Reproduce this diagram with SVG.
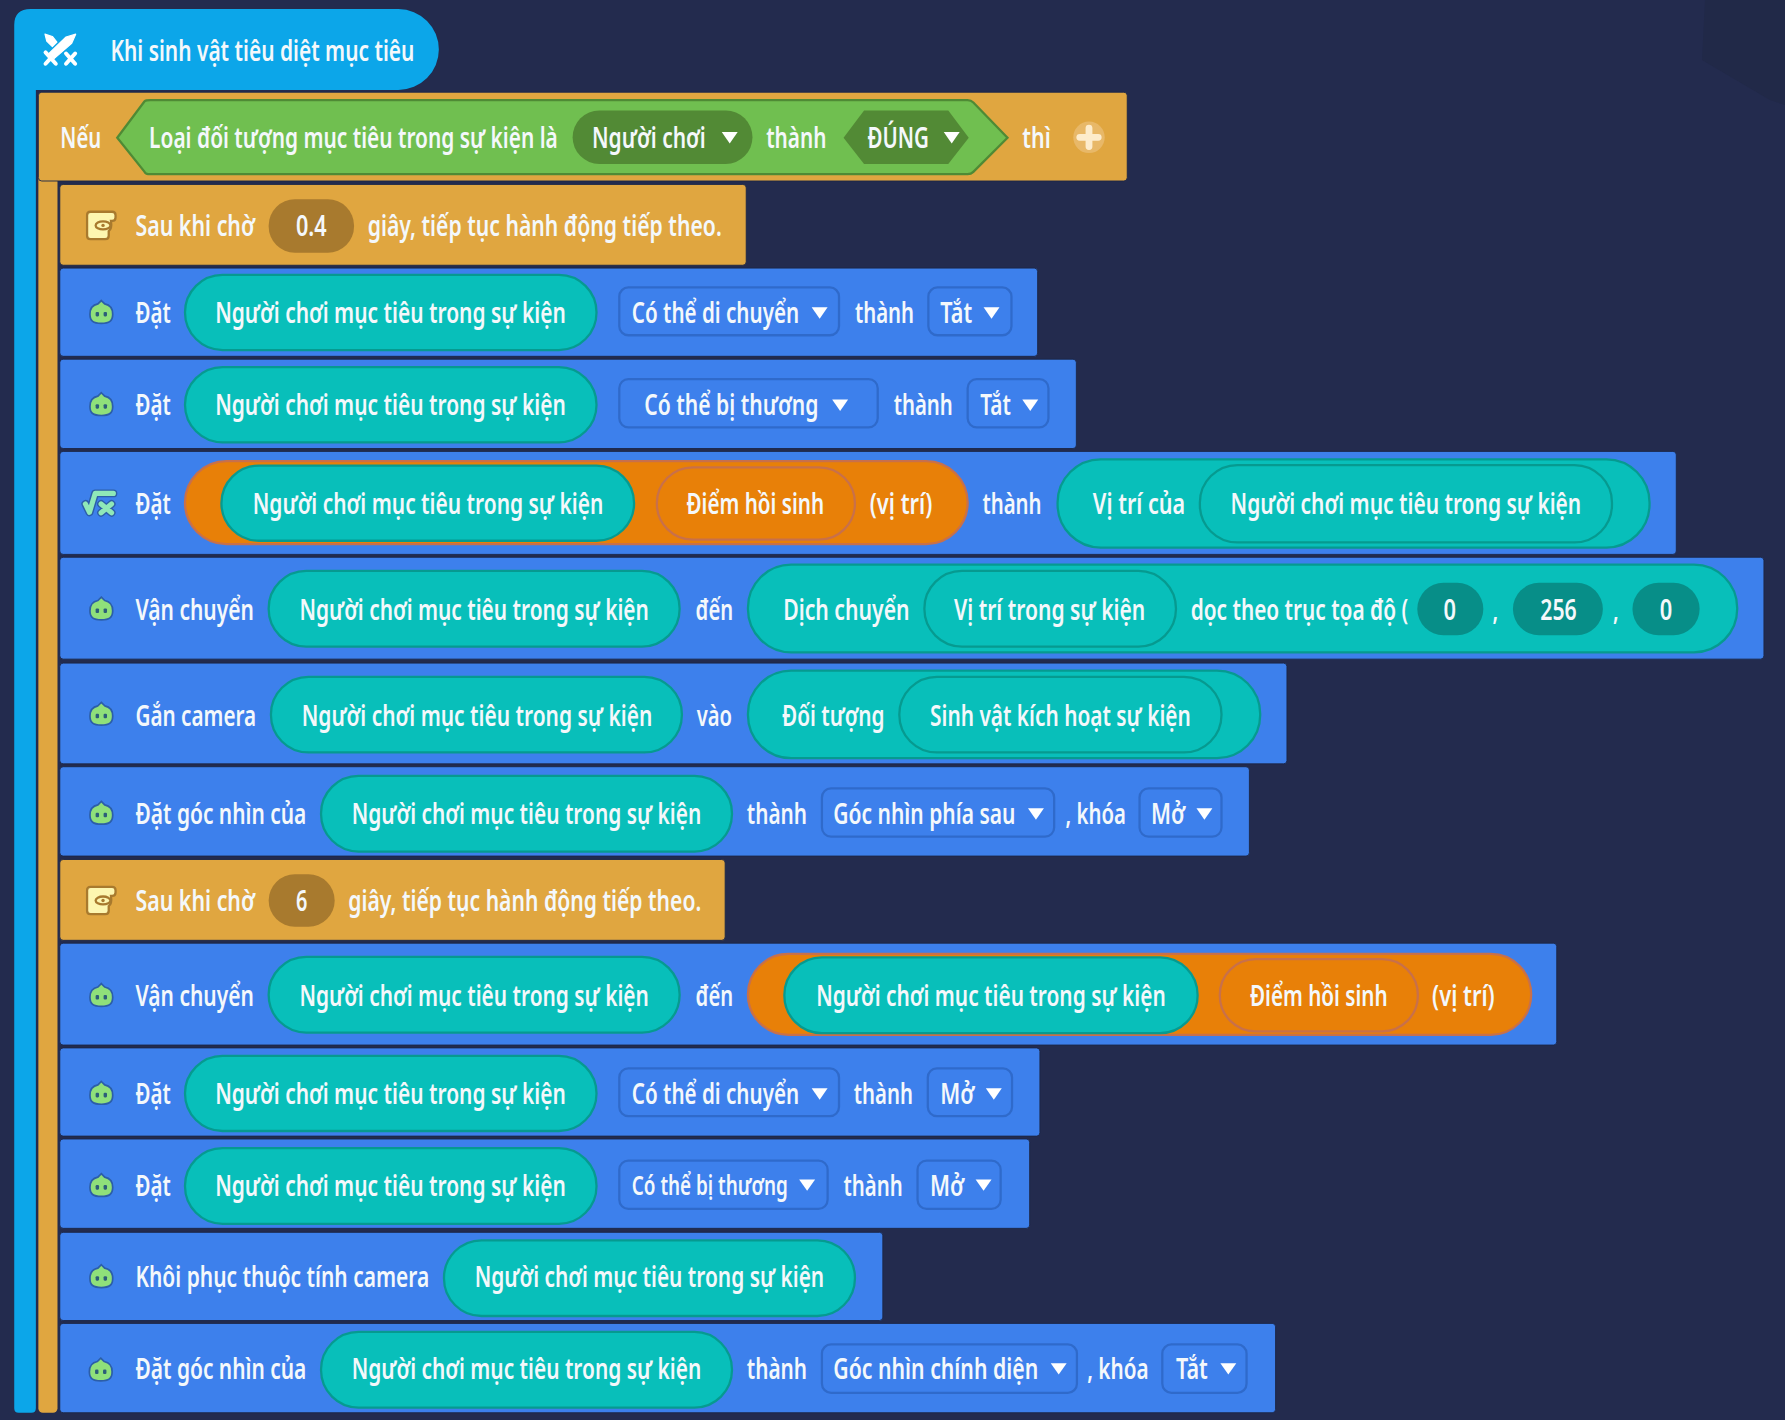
<svg xmlns="http://www.w3.org/2000/svg" width="1785" height="1420" viewBox="0 0 1785 1420">
<style>
text{font-family:"Noto Sans","Open Sans","DejaVu Sans",sans-serif;font-size:20px;font-weight:600;fill:#f4f8fb;transform-box:fill-box;transform-origin:0 78.500%;transform:scaleY(1.25)}
.b{fill:#3d80ec;stroke:#1c2647;stroke-width:.8}
.y{fill:#e0a640;stroke:#1c2647;stroke-width:.8}
.p{fill:#08bfba;stroke:#069a90;stroke-width:2}
.o{fill:#e88008;stroke:#c8704a;stroke-width:2}
.d{fill:#3d80ec;stroke:#2f6acb;stroke-width:2}
.tv{fill:#078e88}
.br{fill:#a87a2e}
.gd{fill:#528a35}
.tri{fill:#fff}
</style>
<defs>
<polygon id="tri" class="tri" points="-7,-5 7,-5 0,5"/>
<g id="blob">
<path d="M0,-11 L3,-8 C8,-7 10,-4 10,1 C10,7 7,9 0,9 C-7,9 -10,7 -10,1 C-10,-4 -8,-7 -3,-8Z" fill="#8fe07a" stroke="#2c5ea8" stroke-width="1.500"/>
<rect x="-5" y="-1" width="3" height="4" rx="1" fill="#2c5e78"/><rect x="2" y="-1" width="3" height="4" rx="1" fill="#2c5e78"/>
</g>
<g id="wait">
<path d="M-9,-12 H10 Q13,-12 13,-9 V-7 Q13,-4 10,-4 H9 Q10,3 7,5 V9 Q7,12 4,12 H-9 Q-12,12 -12,9 V-9 Q-12,-12 -9,-12Z" fill="#fdf6b0" stroke="#a87a2e" stroke-width="2"/>
<ellipse cx="2" cy="0" rx="6.500" ry="3.500" fill="#fdf6b0" stroke="#a87a2e" stroke-width="2"/>
<circle cx="2" cy="0" r="1.500" fill="#a87a2e"/>
</g>
</defs>
<rect width="1785" height="1420" fill="#232b4e"/>
<path d="M1705,0 L1702,60 L1770,100 L1785,105 V0Z" fill="#212948"/>
<g transform="scale(1.1384)">
<g id="bar-event"><path d="M31.500,70 V1237 Q31.500,1241 27.500,1241 H16.500 Q12.500,1241 12.500,1237 V22 Q12.500,8 27,8 H350 A35.500,35.500 0 0 1 350,79 H31.500Z" fill="#0ca6e9"/></g>
<g id="bar-if"><rect x="33.700" y="82" width="16.800" height="1159" rx="4" fill="#e0a640"/></g>
<g id="head">
<g fill="#fff" stroke="#fff" stroke-linecap="round" stroke-linejoin="round">
<path d="M66.500,30 L58,32.500 L43,47 L47.500,51.500 L63,38Z" stroke-width="1"/>
<path d="M39.500,30 L46,32 L50,37 L46,41 L41,36Z" stroke-width="1"/>
<path d="M40,46 L49,56 M44.500,51 L40,56" stroke-width="3.500" fill="none"/>
<path d="M58,47 L66,56 M66,47 L58,56" stroke-width="3.500" fill="none"/>
</g>
<text x="97" y="54" textLength="267" lengthAdjust="spacingAndGlyphs">Khi sinh vật tiêu diệt mục tiêu</text>
</g>
<g id="if">
<rect class="y" x="33.700" y="81" width="956.500" height="78" rx="3"/>
<text x="53" y="130.500" textLength="36" lengthAdjust="spacingAndGlyphs">Nếu</text>
<path d="M103,121 L127,89 Q128,88 132,88 H850 Q853,88 855,90 L885,121 L855,151 Q853,153 850,153 H132 Q128,153 127,151Z" fill="#70bf50" stroke="#4f8a35" stroke-width="2"/>
<text x="131" y="130.500" textLength="359" lengthAdjust="spacingAndGlyphs">Loại đối tượng mục tiêu trong sự kiện là</text>
<rect class="gd" x="503" y="97" width="158" height="47" rx="23.500"/>
<text x="520" y="130.500" textLength="100" lengthAdjust="spacingAndGlyphs">Người chơi</text><use href="#tri" x="641" y="121"/>
<text x="673" y="130.500" textLength="53" lengthAdjust="spacingAndGlyphs">thành</text>
<polygon class="gd" points="741,121 759,97 833,97 851,121 833,144 759,144"/>
<text x="762" y="130.500" textLength="54" lengthAdjust="spacingAndGlyphs">ĐÚNG</text><use href="#tri" x="836" y="121"/>
<text x="898" y="130.500" textLength="25" lengthAdjust="spacingAndGlyphs">thì</text>
<circle cx="956.600" cy="120.600" r="13.800" fill="#e8b868"/><path d="M956.600,112.500 V128.700 M948.500,120.600 H964.700" stroke="#fdeccc" stroke-width="6" stroke-linecap="round"/>
</g>
<g id="wait1">
<rect class="y" x="52.500" y="162" width="603" height="71" rx="3"/>
<use href="#wait" x="88.500" y="198"/>
<text x="119" y="207" textLength="105" lengthAdjust="spacingAndGlyphs">Sau khi chờ</text>
<rect class="br" x="236" y="175" width="75" height="47" rx="23"/>
<text x="260" y="207" textLength="27" lengthAdjust="spacingAndGlyphs">0.4</text>
<text x="323" y="207" textLength="311" lengthAdjust="spacingAndGlyphs">giây, tiếp tục hành động tiếp theo.</text>
</g>
<g id="set1">
<rect class="b" x="52.500" y="235.500" width="859" height="77.500" rx="3"/>
<use href="#blob" x="89" y="275"/>
<text x="119" y="284" textLength="31" lengthAdjust="spacingAndGlyphs">Đặt</text>
<rect class="p" x="162.500" y="241.500" width="361.500" height="66" rx="33"/>
<text x="189" y="284" textLength="308" lengthAdjust="spacingAndGlyphs">Người chơi mục tiêu trong sự kiện</text>
<rect class="d" x="544" y="252.500" width="193" height="42" rx="8"/>
<text x="555" y="284" textLength="147" lengthAdjust="spacingAndGlyphs">Có thể di chuyển</text><use href="#tri" x="720" y="275"/>
<text x="751" y="284" textLength="52" lengthAdjust="spacingAndGlyphs">thành</text>
<rect class="d" x="815.500" y="252.500" width="73" height="42" rx="8"/>
<text x="826" y="284" textLength="28" lengthAdjust="spacingAndGlyphs">Tắt</text><use href="#tri" x="871" y="275"/>
</g>
<g id="set2">
<rect class="b" x="52.500" y="315.500" width="893" height="78.500" rx="3"/>
<use href="#blob" x="89" y="356"/>
<text x="119" y="365" textLength="31" lengthAdjust="spacingAndGlyphs">Đặt</text>
<rect class="p" x="162.500" y="322.500" width="361.500" height="66" rx="33"/>
<text x="189" y="365" textLength="308" lengthAdjust="spacingAndGlyphs">Người chơi mục tiêu trong sự kiện</text>
<rect class="d" x="544" y="333" width="227" height="42.500" rx="8"/>
<text x="566" y="365" textLength="153" lengthAdjust="spacingAndGlyphs">Có thể bị thương</text><use href="#tri" x="738" y="356"/>
<text x="785" y="365" textLength="52" lengthAdjust="spacingAndGlyphs">thành</text>
<rect class="d" x="850" y="333" width="71" height="42.500" rx="8"/>
<text x="861" y="365" textLength="27" lengthAdjust="spacingAndGlyphs">Tắt</text><use href="#tri" x="905" y="356"/>
</g>
<g id="set3">
<rect class="b" x="52.500" y="396.500" width="1420" height="90.500" rx="3"/>
<g fill="none" stroke-linecap="round" stroke-linejoin="round">
<g stroke="#2c5ea8" stroke-width="7"><path d="M75,442.700 L78.600,450 L83.600,433.400 H99.600"/><path d="M88.800,442.700 L98,450.400 M98,442.700 L88.800,450.400"/></g>
<g stroke="#8fe8b8" stroke-width="4.500"><path d="M75,442.700 L78.600,450 L83.600,433.400 H99.600"/><path d="M88.800,442.700 L98,450.400 M98,442.700 L88.800,450.400"/></g>
</g>
<text x="119" y="451.500" textLength="31" lengthAdjust="spacingAndGlyphs">Đặt</text>
<rect class="o" x="162.500" y="405" width="687.500" height="73" rx="36.500"/>
<rect class="p" x="194.500" y="409" width="362.500" height="66" rx="33"/>
<text x="222" y="451.500" textLength="308" lengthAdjust="spacingAndGlyphs">Người chơi mục tiêu trong sự kiện</text>
<rect class="o" x="577" y="410.500" width="174" height="63.500" rx="31.500"/>
<text x="603" y="451.500" textLength="121" lengthAdjust="spacingAndGlyphs">Điểm hồi sinh</text>
<text x="764" y="451.500" textLength="55" lengthAdjust="spacingAndGlyphs">(vị trí)</text>
<text x="863" y="451.500" textLength="52" lengthAdjust="spacingAndGlyphs">thành</text>
<rect class="p" x="929" y="403.500" width="520" height="77.500" rx="38"/>
<text x="960" y="451.500" textLength="81" lengthAdjust="spacingAndGlyphs">Vị trí của</text>
<rect class="p" x="1054" y="408.500" width="362" height="68" rx="33"/>
<text x="1081" y="451.500" textLength="308" lengthAdjust="spacingAndGlyphs">Người chơi mục tiêu trong sự kiện</text>
</g>
<g id="teleport1">
<rect class="b" x="52.500" y="489.500" width="1497" height="89.500" rx="3"/>
<use href="#blob" x="89" y="535.500"/>
<text x="119" y="545" textLength="104" lengthAdjust="spacingAndGlyphs">Vận chuyển</text>
<rect class="p" x="236" y="501.500" width="361" height="66.500" rx="33"/>
<text x="263" y="545" textLength="307" lengthAdjust="spacingAndGlyphs">Người chơi mục tiêu trong sự kiện</text>
<text x="611" y="545" textLength="33" lengthAdjust="spacingAndGlyphs">đến</text>
<rect class="p" x="657" y="496" width="869" height="77" rx="38"/>
<text x="688" y="545" textLength="111" lengthAdjust="spacingAndGlyphs">Dịch chuyển</text>
<rect class="p" x="812" y="501.500" width="221" height="66.500" rx="33"/>
<text x="838" y="545" textLength="168" lengthAdjust="spacingAndGlyphs">Vị trí trong sự kiện</text>
<text x="1046" y="545" textLength="191" lengthAdjust="spacingAndGlyphs">dọc theo trục tọa độ (</text>
<rect class="tv" x="1245" y="512" width="58" height="46" rx="23"/>
<text x="1268" y="545" textLength="11" lengthAdjust="spacingAndGlyphs">0</text>
<text x="1311" y="545" textLength="5" lengthAdjust="spacingAndGlyphs">,</text>
<rect class="tv" x="1329" y="512" width="79" height="46" rx="23"/>
<text x="1353" y="545" textLength="32" lengthAdjust="spacingAndGlyphs">256</text>
<text x="1417" y="545" textLength="5" lengthAdjust="spacingAndGlyphs">,</text>
<rect class="tv" x="1434" y="512" width="59" height="46" rx="23"/>
<text x="1458" y="545" textLength="11" lengthAdjust="spacingAndGlyphs">0</text>
</g>
<g id="camera">
<rect class="b" x="52.500" y="582.500" width="1078" height="88.500" rx="3"/>
<use href="#blob" x="89" y="628"/>
<text x="119" y="637.500" textLength="106" lengthAdjust="spacingAndGlyphs">Gắn camera</text>
<rect class="p" x="238" y="594.500" width="361" height="66.500" rx="33"/>
<text x="265" y="637.500" textLength="308" lengthAdjust="spacingAndGlyphs">Người chơi mục tiêu trong sự kiện</text>
<text x="612" y="637.500" textLength="31" lengthAdjust="spacingAndGlyphs">vào</text>
<rect class="p" x="657" y="589" width="450" height="77" rx="38"/>
<text x="687" y="637.500" textLength="90" lengthAdjust="spacingAndGlyphs">Đối tượng</text>
<rect class="p" x="790" y="594.500" width="283" height="66.500" rx="33"/>
<text x="817" y="637.500" textLength="229" lengthAdjust="spacingAndGlyphs">Sinh vật kích hoạt sự kiện</text>
</g>
<g id="view1">
<rect class="b" x="52.500" y="673.500" width="1045" height="78.500" rx="3"/>
<use href="#blob" x="89" y="715"/>
<text x="119" y="724" textLength="150" lengthAdjust="spacingAndGlyphs">Đặt góc nhìn của</text>
<rect class="p" x="282" y="681.500" width="361" height="66.500" rx="33"/>
<text x="309" y="724" textLength="307" lengthAdjust="spacingAndGlyphs">Người chơi mục tiêu trong sự kiện</text>
<text x="656" y="724" textLength="53" lengthAdjust="spacingAndGlyphs">thành</text>
<rect class="d" x="722" y="692.500" width="204" height="42.500" rx="8"/>
<text x="732" y="724" textLength="160" lengthAdjust="spacingAndGlyphs">Góc nhìn phía sau</text><use href="#tri" x="910" y="715"/>
<text x="936" y="724" textLength="53" lengthAdjust="spacingAndGlyphs">, khóa</text>
<rect class="d" x="1001" y="692.500" width="72" height="42.500" rx="8"/>
<text x="1011" y="724" textLength="30" lengthAdjust="spacingAndGlyphs">Mở</text><use href="#tri" x="1058" y="715"/>
</g>
<g id="wait2">
<rect class="y" x="52.500" y="755" width="584.500" height="71" rx="3"/>
<use href="#wait" x="88.500" y="791"/>
<text x="119" y="800" textLength="105" lengthAdjust="spacingAndGlyphs">Sau khi chờ</text>
<rect class="br" x="236" y="768" width="58" height="46" rx="23"/>
<text x="260" y="800" textLength="10" lengthAdjust="spacingAndGlyphs">6</text>
<text x="306" y="800" textLength="310" lengthAdjust="spacingAndGlyphs">giây, tiếp tục hành động tiếp theo.</text>
</g>
<g id="teleport2">
<rect class="b" x="52.500" y="828.500" width="1315" height="89.500" rx="3"/>
<use href="#blob" x="89" y="875"/>
<text x="119" y="884" textLength="104" lengthAdjust="spacingAndGlyphs">Vận chuyển</text>
<rect class="p" x="236" y="840.500" width="361" height="66.500" rx="33"/>
<text x="263" y="884" textLength="307" lengthAdjust="spacingAndGlyphs">Người chơi mục tiêu trong sự kiện</text>
<text x="611" y="884" textLength="33" lengthAdjust="spacingAndGlyphs">đến</text>
<rect class="o" x="657" y="838" width="688" height="71" rx="35.500"/>
<rect class="p" x="689" y="841" width="363" height="66.500" rx="33"/>
<text x="717" y="884" textLength="307" lengthAdjust="spacingAndGlyphs">Người chơi mục tiêu trong sự kiện</text>
<rect class="o" x="1071.500" y="842.500" width="174" height="63.500" rx="31.500"/>
<text x="1098" y="884" textLength="121" lengthAdjust="spacingAndGlyphs">Điểm hồi sinh</text>
<text x="1258" y="884" textLength="55" lengthAdjust="spacingAndGlyphs">(vị trí)</text>
</g>
<g id="set4">
<rect class="b" x="52.500" y="920.500" width="861" height="77.500" rx="3"/>
<use href="#blob" x="89" y="961"/>
<text x="119" y="970" textLength="31" lengthAdjust="spacingAndGlyphs">Đặt</text>
<rect class="p" x="162.500" y="927.500" width="361.500" height="66" rx="33"/>
<text x="189" y="970" textLength="308" lengthAdjust="spacingAndGlyphs">Người chơi mục tiêu trong sự kiện</text>
<rect class="d" x="544" y="938.500" width="193" height="42" rx="8"/>
<text x="555" y="970" textLength="147" lengthAdjust="spacingAndGlyphs">Có thể di chuyển</text><use href="#tri" x="720" y="961"/>
<text x="750" y="970" textLength="52" lengthAdjust="spacingAndGlyphs">thành</text>
<rect class="d" x="815" y="938.500" width="74" height="42" rx="8"/>
<text x="826" y="970" textLength="30" lengthAdjust="spacingAndGlyphs">Mở</text><use href="#tri" x="873" y="961"/>
</g>
<g id="set5">
<rect class="b" x="52.500" y="1000.500" width="852" height="78.500" rx="3"/>
<use href="#blob" x="89" y="1042"/>
<text x="119" y="1051" textLength="31" lengthAdjust="spacingAndGlyphs">Đặt</text>
<rect class="p" x="162.500" y="1008.500" width="361.500" height="66.500" rx="33"/>
<text x="189" y="1051" textLength="308" lengthAdjust="spacingAndGlyphs">Người chơi mục tiêu trong sự kiện</text>
<rect class="d" x="544" y="1019.500" width="183" height="42.500" rx="8"/>
<text x="555" y="1050" textLength="137" lengthAdjust="spacingAndGlyphs" style="font-size:18.400px">Có thể bị thương</text><use href="#tri" x="709" y="1041"/>
<text x="741" y="1051" textLength="52" lengthAdjust="spacingAndGlyphs">thành</text>
<rect class="d" x="806" y="1019.500" width="73" height="42.500" rx="8"/>
<text x="817" y="1051" textLength="30" lengthAdjust="spacingAndGlyphs">Mở</text><use href="#tri" x="864" y="1041"/>
</g>
<g id="restore">
<rect class="b" x="52.500" y="1082.500" width="723" height="77.500" rx="3"/>
<use href="#blob" x="89" y="1122"/>
<text x="119" y="1131" textLength="258" lengthAdjust="spacingAndGlyphs">Khôi phục thuộc tính camera</text>
<rect class="p" x="390" y="1089.500" width="361" height="66.500" rx="33"/>
<text x="417" y="1131" textLength="307" lengthAdjust="spacingAndGlyphs">Người chơi mục tiêu trong sự kiện</text>
</g>
<g id="view2">
<rect class="b" x="52.500" y="1162.500" width="1068" height="78.500" rx="3"/>
<use href="#blob" x="88.500" y="1204"/>
<text x="119" y="1211.500" textLength="150" lengthAdjust="spacingAndGlyphs">Đặt góc nhìn của</text>
<rect class="p" x="282" y="1170" width="361" height="66.500" rx="33"/>
<text x="309" y="1211.500" textLength="307" lengthAdjust="spacingAndGlyphs">Người chơi mục tiêu trong sự kiện</text>
<text x="656" y="1211.500" textLength="53" lengthAdjust="spacingAndGlyphs">thành</text>
<rect class="d" x="722" y="1181" width="224" height="42.500" rx="8"/>
<text x="732" y="1211.500" textLength="180" lengthAdjust="spacingAndGlyphs">Góc nhìn chính diện</text><use href="#tri" x="930" y="1202.500"/>
<text x="955" y="1211.500" textLength="54" lengthAdjust="spacingAndGlyphs">, khóa</text>
<rect class="d" x="1021" y="1181" width="74" height="42.500" rx="8"/>
<text x="1033" y="1211.500" textLength="28" lengthAdjust="spacingAndGlyphs">Tắt</text><use href="#tri" x="1079" y="1202.500"/>
</g>
</g>
</svg>
